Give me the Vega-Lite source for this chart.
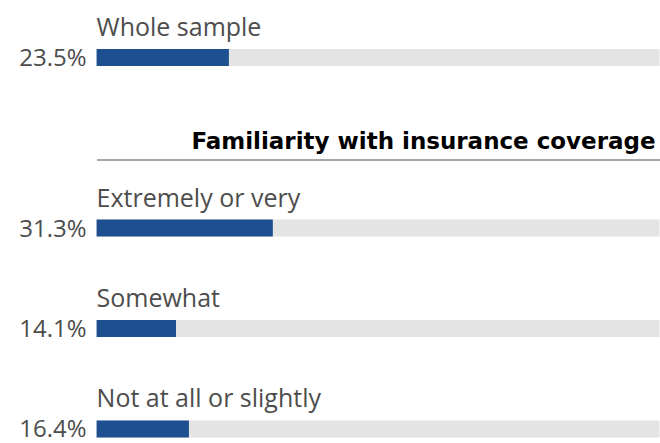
{
  "$schema": "https://vega.github.io/schema/vega-lite/v6.json",
  "padding": {"left": 18.6, "top": 16, "right": 0, "bottom": 0},
  "bounds": "flush",
  "spacing": 93.5,
  "background": "white",
  "config": {"view": {"stroke": null}, "font": "Open Sans"},
  "datasets": {
    "whole": [{"group": "Whole sample", "value": 0.235}],
    "fam": [
      {"group": "Extremely or very", "value": 0.313},
      {"group": "Somewhat", "value": 0.141},
      {"group": "Not at all or slightly", "value": 0.164}
    ]
  },
  "vconcat": [
    {
      "width": 563,
      "height": 17,
      "data": {"name": "whole"},
      "encoding": {
        "y": {"field": "group", "type": "nominal", "axis": null, "scale": {"paddingInner": 0, "paddingOuter": 0}}
      },
      "layer": [
        {"mark": {"type": "bar", "color": "#e4e4e4"}, "encoding": {"x": {"datum": 1, "type": "quantitative", "scale": {"domain": [0, 1]}, "axis": null}}},
        {"mark": {"type": "bar", "color": "#1d4f91"}, "encoding": {"x": {"field": "value", "type": "quantitative"}}},
        {"mark": {"type": "text", "align": "left", "baseline": "alphabetic", "dy": -21.5, "fontSize": 25, "color": "#4d4d4d"}, "encoding": {"x": {"datum": 0, "type": "quantitative"}, "text": {"field": "group"}}},
        {"mark": {"type": "text", "align": "right", "baseline": "alphabetic", "dx": -10, "dy": 8.5, "fontSize": 24, "color": "#4d4d4d"}, "encoding": {"x": {"datum": 0, "type": "quantitative"}, "text": {"field": "value", "type": "quantitative", "format": ".1%"}}}
      ]
    },
    {
      "width": 563,
      "height": 278,
      "title": {"text": "Familiarity with insurance coverage", "anchor": "end", "frame": "group", "fontSize": 23, "fontWeight": "bold", "color": "#000000", "offset": 10, "dy": 22, "dx": -4, "baseline": "alphabetic", "font": "DejaVu Sans"},
      "data": {"name": "fam"},
      "encoding": {
        "y": {"field": "group", "type": "nominal", "sort": null, "axis": null, "scale": {"paddingInner": 0.83085, "paddingOuter": 0.29851, "align": 1}}
      },
      "layer": [
        {"mark": {"type": "bar", "color": "#e4e4e4"}, "encoding": {"x": {"datum": 1, "type": "quantitative", "scale": {"domain": [0, 1]}, "axis": {"orient": "top", "domain": true, "domainColor": "#8a8a8a", "domainWidth": 1.5, "ticks": false, "labels": false, "grid": false, "title": null}}}},
        {"mark": {"type": "bar", "color": "#1d4f91"}, "encoding": {"x": {"field": "value", "type": "quantitative"}}},
        {"mark": {"type": "text", "align": "left", "baseline": "alphabetic", "dy": -21.5, "fontSize": 25, "color": "#4d4d4d"}, "encoding": {"x": {"datum": 0, "type": "quantitative"}, "text": {"field": "group"}}},
        {"mark": {"type": "text", "align": "right", "baseline": "alphabetic", "dx": -10, "dy": 8.5, "fontSize": 24, "color": "#4d4d4d"}, "encoding": {"x": {"datum": 0, "type": "quantitative"}, "text": {"field": "value", "type": "quantitative", "format": ".1%"}}}
      ]
    }
  ]
}
